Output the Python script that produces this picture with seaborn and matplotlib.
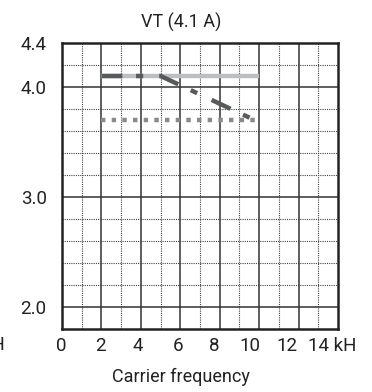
import numpy as np
import pandas as pd
import seaborn as sns
import matplotlib
matplotlib.use("Agg")
import matplotlib.pyplot as plt
from matplotlib.transforms import ScaledTranslation

# Data
light_x = [2, 10]
light_y = [4.1, 4.1]
dark_x = [2, 5, 10]
dark_y = [4.1, 4.1, 3.68]
dotted_x = [2, 10]
dotted_y = [3.7, 3.7]
x_ticks = [0, 2, 4, 6, 8, 10, 12, 14]
x_labels = ["0", "2", "4", "6", "8", "10", "12", "14 kH"]
y_ticks = [2.0, 3.0, 4.0, 4.4]
y_labels = ["2.0", "3.0", "4.0", "4.4"]
title = "VT (4.1 A)"
xlabel = "Carrier frequency"

sns.set_theme(style="white")
plt.rcParams['font.family'] = ['Roboto', 'DejaVu Sans']

fig = plt.figure(figsize=(3.72, 3.92), dpi=100)
ax = fig.add_axes([62/372, 1-329/392, 276/372, 286/392])

df_light = pd.DataFrame({"x": light_x, "y": light_y})
df_dark = pd.DataFrame({"x": dark_x, "y": dark_y})
df_dot = pd.DataFrame({"x": dotted_x, "y": dotted_y})

lw = 3.2
sns.lineplot(data=df_light, x="x", y="y", ax=ax, color="#bcbec0", lw=lw,
             solid_capstyle="butt", zorder=3)
sns.lineplot(data=df_dark, x="x", y="y", ax=ax, color="#58595b", lw=lw, zorder=4)
ax.lines[-1].set_dashes([4.7, 3.1, 1.6, 3.6])
ax.lines[-1].set_dash_capstyle("butt")
sns.lineplot(data=df_dot, x="x", y="y", ax=ax, color="#8a8a8a", lw=lw, zorder=3)
ax.lines[-1].set_dashes([1.0, 1.4])
ax.lines[-1].set_dash_capstyle("butt")

ax.set_xlim(0, 14)
ax.set_ylim(1.8, 4.4)

# grid
for v in [2, 4, 6, 8, 10, 12]:
    ax.axvline(v, color="#333333", lw=1.1, zorder=1)
for v in [1, 3, 5, 7, 9, 11, 13]:
    ax.axvline(v, color="#444444", lw=0.8, ls=(0, (1, 1)), zorder=1)
for v in [2.0, 3.0, 4.0]:
    ax.axhline(v, color="#333333", lw=1.1, zorder=1)
for v in [2.2, 2.4, 2.6, 2.8, 3.2, 3.4, 3.6, 3.8, 4.2]:
    ax.axhline(v, color="#444444", lw=0.8, ls=(0, (1, 1)), zorder=1)

ax.set_xticks(x_ticks)
ax.set_xticklabels(x_labels, fontsize=13.5)
ax.set_yticks(y_ticks)
ax.set_yticklabels(y_labels, fontsize=13.5)
ax.tick_params(axis="x", length=0, pad=6, colors="#222222")
ax.tick_params(axis="y", length=0, pad=11, colors="#222222")
# small per-label horizontal shifts (pixels) as in the reference
shifts = [-1, -1, -3, -2, -5, -9, -12, -6]
for lab, dx in zip(ax.get_xticklabels(), shifts):
    lab.set_transform(lab.get_transform() + ScaledTranslation(dx/100, 0, fig.dpi_scale_trans))
ax.set_xlabel("")
ax.set_ylabel("")
for s in ax.spines.values():
    s.set_visible(True)
    s.set_color("#222222")
    s.set_linewidth(1.8)

fig.text(181/372, 1-22/392, title, ha="center", va="center", fontsize=13, color="#222222")
fig.text(181/372, 1-377/392, xlabel, ha="center", va="center", fontsize=13, color="#222222")
fig.text(6/372, 1-345/392, "kH", ha="right", va="center", fontsize=13.5, color="#222222")

fig.savefig("out.png", dpi=100)
